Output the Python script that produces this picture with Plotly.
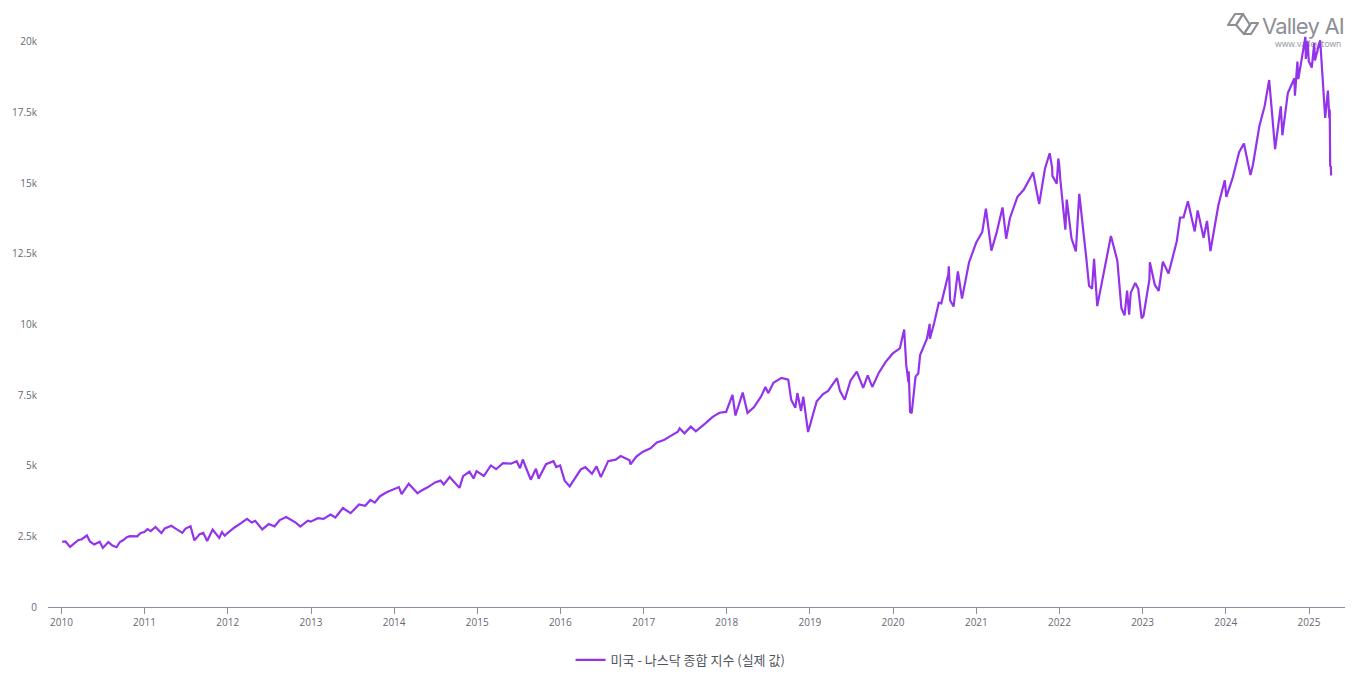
import base64
import plotly.graph_objects as go

dates = [
    "2010-01-04","2010-01-19","2010-02-08","2010-02-26","2010-03-15","2010-03-31","2010-04-23","2010-05-06","2010-05-25","2010-06-18","2010-07-02","2010-07-26","2010-08-13","2010-08-31","2010-09-15","2010-09-30","2010-10-15","2010-10-29","2010-11-15","2010-11-30","2010-12-15","2010-12-31",
    "2011-01-14","2011-01-28","2011-02-18","2011-03-16","2011-03-31","2011-04-29","2011-05-16","2011-06-16","2011-06-30","2011-07-22","2011-08-08","2011-08-31","2011-09-16","2011-10-03","2011-10-27","2011-11-25","2011-12-07","2011-12-19","2011-12-30",
    "2012-01-31","2012-02-29","2012-03-26","2012-04-16","2012-05-01","2012-06-01","2012-06-29","2012-07-25","2012-08-17","2012-09-14","2012-10-01","2012-10-26","2012-11-15","2012-12-18","2012-12-31",
    "2013-01-31","2013-02-25","2013-03-28","2013-04-18","2013-05-21","2013-06-24","2013-07-31","2013-08-27","2013-09-19","2013-10-08","2013-10-31","2013-11-29","2013-12-31",
    "2014-01-22","2014-02-03","2014-03-06","2014-04-14","2014-04-30","2014-05-30","2014-06-30","2014-07-24","2014-08-07","2014-09-02","2014-10-15","2014-10-31","2014-11-28","2014-12-16","2014-12-29",
    "2015-01-30","2015-02-27","2015-03-02","2015-03-25","2015-04-24","2015-05-29","2015-06-23","2015-07-08","2015-07-20","2015-08-24","2015-09-16","2015-09-28","2015-10-30","2015-12-02","2015-12-14","2015-12-31",
    "2016-01-20","2016-02-11","2016-03-31","2016-04-20","2016-05-19","2016-06-08","2016-06-27","2016-07-29","2016-08-31","2016-09-22","2016-10-31","2016-11-04","2016-11-30","2016-12-27",
    "2017-01-31","2017-02-28","2017-03-31","2017-04-28","2017-05-31","2017-06-08","2017-06-29","2017-07-27","2017-08-18","2017-09-29","2017-10-31","2017-11-30","2017-12-29",
    "2018-01-26","2018-02-08","2018-03-12","2018-04-02","2018-04-30","2018-05-31","2018-06-20","2018-07-02","2018-07-25","2018-08-29","2018-09-28","2018-10-11","2018-10-29","2018-11-07","2018-11-23","2018-12-03","2018-12-24",
    "2019-01-31","2019-02-28","2019-03-22","2019-04-30","2019-05-13","2019-06-03","2019-06-28","2019-07-26","2019-08-23","2019-09-12","2019-10-02","2019-10-31","2019-11-29","2019-12-31",
    "2020-01-31","2020-02-19","2020-02-28","2020-03-09","2020-03-10","2020-03-16","2020-03-23","2020-04-09","2020-04-21","2020-04-29","2020-05-29","2020-06-10","2020-06-11","2020-06-30","2020-07-20","2020-07-31","2020-08-31","2020-09-02","2020-09-08","2020-09-23","2020-10-12","2020-10-30","2020-11-30","2020-12-31",
    "2021-01-27","2021-02-12","2021-03-08","2021-03-31","2021-04-26","2021-05-12","2021-05-28","2021-06-30","2021-07-28","2021-08-31","2021-09-07","2021-10-04","2021-10-29","2021-11-19","2021-11-30","2021-12-01","2021-12-20","2021-12-27","2021-12-31",
    "2022-01-05","2022-01-27","2022-02-02","2022-02-23","2022-03-14","2022-03-29","2022-04-29","2022-05-11","2022-05-24","2022-06-02","2022-06-16","2022-07-29","2022-08-15","2022-09-12","2022-09-30","2022-10-14","2022-10-25","2022-11-03","2022-11-10","2022-11-30","2022-12-13","2022-12-28",
    "2023-01-05","2023-01-31","2023-02-02","2023-02-24","2023-03-13","2023-03-31","2023-04-25","2023-05-31","2023-06-15","2023-06-30","2023-07-19","2023-08-18","2023-08-31","2023-09-26","2023-10-11","2023-10-26","2023-11-30","2023-12-28",
    "2024-01-04","2024-01-31","2024-02-29","2024-03-21","2024-04-19","2024-04-30","2024-05-28","2024-06-20","2024-07-10","2024-07-24","2024-08-05","2024-08-30","2024-09-06","2024-09-30","2024-10-29","2024-10-31","2024-11-11","2024-11-15","2024-12-16","2024-12-18","2024-12-26","2024-12-31",
    "2025-01-13","2025-01-24","2025-01-27","2025-02-19","2025-02-28","2025-03-10","2025-03-13","2025-03-25","2025-03-31","2025-04-02","2025-04-04","2025-04-07","2025-04-08",
]

values = [
    2308,2320,2126,2238,2362,2398,2530,2320,2210,2309,2091,2296,2173,2114,2301,2369,2468,2507,2513,2498,2617,2653,
    2755,2686,2834,2617,2781,2873,2783,2623,2774,2858,2358,2579,2622,2335,2738,2441,2649,2523,2605,
    2814,2967,3122,2988,3050,2747,2935,2855,3076,3183,3113,2987,2846,3054,3020,
    3142,3116,3268,3166,3502,3320,3626,3579,3789,3695,3920,4060,4177,
    4243,3997,4358,4022,4115,4243,4408,4473,4334,4598,4215,4631,4792,4547,4806,
    4635,4964,5008,4876,5092,5070,5160,4910,5219,4506,4889,4543,5054,5157,4953,5007,
    4472,4266,4870,4948,4712,4974,4594,5162,5213,5339,5189,5046,5324,5488,
    5615,5825,5912,6048,6199,6321,6144,6382,6217,6496,6728,6874,6903,
    7505,6777,7588,6870,7066,7442,7782,7567,7932,8109,8046,7330,7050,7570,6938,7442,6193,
    7282,7533,7643,8095,7647,7333,8006,8330,7751,8195,7786,8292,8665,8973,
    9151,9817,8567,7950,8344,6904,6860,8153,8263,8914,9490,10020,9493,10059,10767,10745,11775,12056,10848,10633,11876,10912,12199,12888,
    13270,14095,12609,13247,14138,13032,13749,14504,14763,15259,15374,14255,15498,16057,15538,15254,14981,15871,15645,
    15100,13353,14417,13037,12581,14619,12335,11364,11264,12317,10646,12391,13128,12266,10576,10321,11199,10342,11114,11468,11256,10213,
    10305,11585,12200,11395,11189,12222,11799,12935,13782,13788,14358,13290,14035,13063,13659,12596,14226,15095,
    14510,15164,16092,16402,15282,15658,17019,17721,18647,17342,16200,17714,16691,18189,18712,18095,19299,18680,20174,19393,20020,19311,
    19088,19955,19342,20056,18847,17468,17303,18271,17299,17601,15588,15603,15268,
]

series_name = "미국 - 나스닥 종합 지수 (실제 값)"
y_tickvals = [0, 2500, 5000, 7500, 10000, 12500, 15000, 17500, 20000]
y_ticktext = ["0", "2.5k", "5k", "7.5k", "10k", "12.5k", "15k", "17.5k", "20k"]

logo_svg = """<svg xmlns='http://www.w3.org/2000/svg' width='130' height='44' viewBox='0 0 130 44'>
<g fill='none' stroke='#8d8f96' stroke-width='2.2' stroke-linejoin='round'>
<path d='M6 17 L13 6 L21 6 L14 17 Z'/>
<path d='M14 17 L21 6 L28 17 L22 26 Z'/>
<path d='M22 26 L29 15 L36 15 L29 26 Z'/>
</g>
<text x='40' y='26' font-family='Inter, Noto Sans, sans-serif' font-size='22' letter-spacing='-0.8' fill='#8d8f96'>Valley AI</text>
<text x='53' y='39' font-family='Noto Sans, sans-serif' font-size='8.5' fill='#9a9ca3'>www.valley.town</text>
</svg>"""
logo_src = "data:image/svg+xml;base64," + base64.b64encode(logo_svg.encode("utf-8")).decode()

fig = go.Figure()
fig.add_trace(go.Scatter(
    x=dates, y=values, mode="lines", name=series_name,
    line=dict(color="#9333ea", width=2.2),
    showlegend=True,
))

plot_left, plot_right, plot_top, plot_bottom = 48, 1345, 22, 607

def px_x(p):
    return (p - plot_left) / (plot_right - plot_left)

def px_y(p):
    return (plot_bottom - p) / (plot_bottom - plot_top)

fig.update_layout(
    width=1355, height=688,
    margin=dict(l=plot_left, r=1355 - plot_right, t=plot_top, b=688 - plot_bottom),
    paper_bgcolor="white", plot_bgcolor="white",
    font=dict(family="Open Sans, Noto Sans CJK KR, sans-serif", size=10, color="#666a75"),
    xaxis=dict(
        type="date",
        range=["2009-11-03", "2025-06-08"],
        showgrid=False, zeroline=False,
        showline=True, linecolor="#8a8f9c", linewidth=1,
        ticks="outside", ticklen=6, tickcolor="#8a8f9c",
        dtick="M12", tick0="2010-01-01", tickformat="%Y",
        tickfont=dict(size=10, color="#666a75"),
    ),
    yaxis=dict(
        range=[0, 20700],
        showgrid=False, zeroline=False, showline=False,
        tickvals=y_tickvals, ticktext=y_ticktext,
        tickfont=dict(size=10, color="#666a75"),
        ticks="", ticklabelstandoff=10,
    ),
    legend=dict(
        orientation="h", x=0.4877, xanchor="center", y=px_y(645), yanchor="top",
        font=dict(size=13, color="#50545f", family="Noto Sans CJK KR, sans-serif"),
    ),
    images=[dict(
        source=logo_src, xref="paper", yref="paper",
        x=px_x(1222), y=px_y(8), xanchor="left", yanchor="top",
        sizex=130 / (plot_right - plot_left), sizey=44 / (plot_bottom - plot_top),
        sizing="stretch", layer="below",
    )],
    hovermode="x",
)

fig.write_html("out.html")
